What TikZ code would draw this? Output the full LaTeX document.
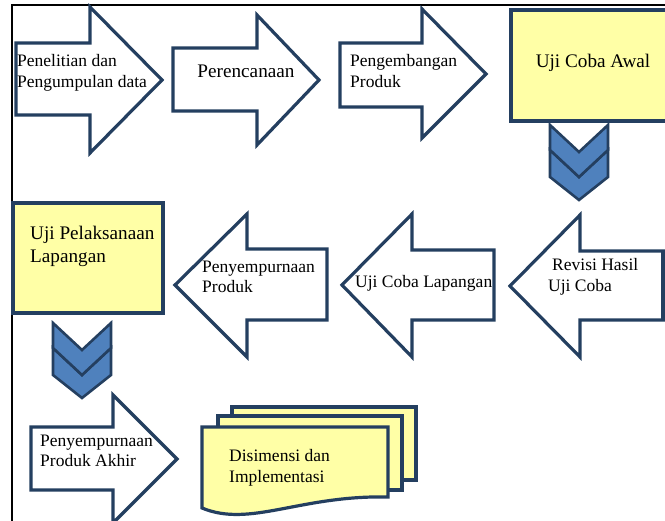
\documentclass[tikz,border=0pt]{standalone}
\usepackage{fontspec}
\setmainfont{Liberation Serif}
\begin{document}
\begin{tikzpicture}[x=1pt,y=-1pt,
  shp/.style={draw=navy,line width=3.2pt,line join=miter,fill=white},
  ybox/.style={draw=navy,line width=3.2pt,fill=lyellow},
  chev/.style={draw=navy,line width=2.6pt,line join=miter,fill=cblue},
  txt/.style={inner sep=0pt,font=\fontsize{17.5}{20.5}\selectfont,align=left},
  btxt/.style={inner sep=0pt,font=\fontsize{19.2}{23}\selectfont,align=left}]
\definecolor{navy}{HTML}{243F60}
\definecolor{lyellow}{HTML}{FFFFA6}
\definecolor{cblue}{HTML}{4F81BD}
\clip (0,0) rectangle (665,521);
\fill[white] (0,0) rectangle (665,521);
% frame
\draw[line width=1.4pt] (12,526) -- (12,5) -- (670,5);
% row 1
\draw[shp] (16,43)--(90,43)--(90,7)--(162,80)--(90,153)--(90,115)--(16,115)--cycle;
\node[txt,anchor=west] (a1) at (17,73) {Penelitian dan\\Pengumpulan data};
\draw[shp] (173,48)--(257,48)--(257,15)--(319,80)--(257,145)--(257,111)--(173,111)--cycle;
\node[btxt] (a2) at (246,71) {Perencanaan};
\draw[shp] (340,43)--(422,43)--(422,9)--(486,74)--(422,138)--(422,107)--(340,107)--cycle;
\node[txt,anchor=west] (a3) at (350,71) {Pengembangan\\Produk};
\draw[ybox] (511,10) rectangle (690,121);
\node[btxt] (a4) at (593,63) {Uji Coba Awal};
% chevron 1
\draw[chev] (550,150)--(579,177)--(608,150)--(608,177)--(579,200)--(550,177)--cycle;
\draw[chev] (550,125)--(579,152)--(608,125)--(608,150)--(579,177)--(550,150)--cycle;
% row 2
\draw[shp] (670,251)--(580,251)--(580,215)--(510,286)--(580,357)--(580,320)--(670,320)--cycle;
\draw[navy,line width=3.2pt] (663,251)--(663,320);
\node[txt,anchor=west] (b1) at (548,277) {\hspace{4pt}Revisi Hasil\\Uji Coba};
\draw[shp] (494,250)--(412,250)--(412,214)--(342,285)--(412,357)--(412,320)--(494,320)--cycle;
\node[txt,anchor=west] (b2) at (355,283) {Uji Coba Lapangan};
\draw[shp] (327,249)--(247,249)--(247,214)--(175,285)--(247,357)--(247,320)--(327,320)--cycle;
\node[txt,anchor=west] (b3) at (202,277) {Penyempurnaan\\Produk};
\draw[ybox] (13,203) rectangle (163,313);
\node[btxt,anchor=west] (b4) at (30,246) {Uji Pelaksanaan\\Lapangan};
% chevron 2
\begin{scope}[shift={(-497,198)}]
\draw[chev] (550,150)--(579,177)--(608,150)--(608,177)--(579,200)--(550,177)--cycle;
\draw[chev] (550,125)--(579,152)--(608,125)--(608,150)--(579,177)--(550,150)--cycle;
\end{scope}
% row 3
\draw[shp] (31,427)--(113,427)--(113,395)--(177,459)--(113,523)--(113,490)--(31,490)--cycle;
\node[txt,anchor=west] (c1) at (40,451) {Penyempurnaan\\Produk Akhir};
\draw[ybox] (232,407) rectangle (416,480);
\draw[ybox] (218,416) rectangle (402,490);
\draw[ybox] (202,427) -- (388,427) -- (388,497) .. controls (300,495) and (250,528) .. (202,508) -- cycle;
\node[txt,anchor=west] (c2) at (229,468) {Disimensi dan\\Implementasi};
\end{tikzpicture}
\end{document}
